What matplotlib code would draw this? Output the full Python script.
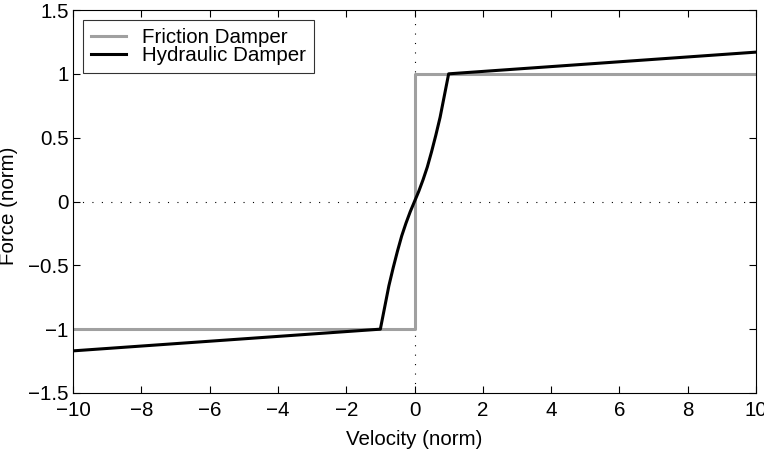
import matplotlib
matplotlib.use("Agg")
import matplotlib.pyplot as plt

# Data
fric_x = [-10, 0, 0, 10]
fric_y = [-1, -1, 1, 1]
hyd_x = [-10, -1, -0.875, -0.75, -0.625, -0.5, -0.375, -0.25, -0.125, 0,
         0.125, 0.25, 0.375, 0.5, 0.625, 0.75, 0.875, 1, 10]
hyd_y = [-1.17, -1, -0.83, -0.66, -0.52, -0.39, -0.27, -0.17, -0.08, 0,
         0.08, 0.17, 0.27, 0.39, 0.52, 0.66, 0.83, 1, 1.17]
xticks = [-10, -8, -6, -4, -2, 0, 2, 4, 6, 8, 10]
yticks = [-1.5, -1, -0.5, 0, 0.5, 1, 1.5]

plt.rcParams['font.family'] = ['Liberation Sans', 'DejaVu Sans']
FS = 14.8
fig = plt.figure(figsize=(7.64, 4.58), dpi=100)
ax = fig.add_axes([73/764, 1-393/458, (756-73)/764, (393-10)/458])

ax.axvline(0, color='black', lw=0.8, ls=(0, (1, 7.5)))
ax.axhline(0, color='black', lw=0.8, ls=(0, (1, 7.5)))
ax.plot(fric_x, fric_y, color='#a0a0a0', lw=2.2, label='Friction Damper')
ax.plot(hyd_x, hyd_y, color='black', lw=2.2, label='Hydraulic Damper')

ax.set_xlim(-10, 10)
ax.set_ylim(-1.5, 1.5)
ax.set_xticks(xticks)
ax.set_yticks(yticks)
ax.set_xticklabels([str(t).replace('-', '\u2212') for t in xticks])
ax.set_yticklabels([('%g' % t).replace('-', '\u2212') for t in yticks])
ax.tick_params(direction='in', length=5, width=0.8, top=True, right=True,
               labelsize=FS)
ax.tick_params(axis='x', pad=6)
ax.tick_params(axis='y', pad=3)
for s in ax.spines.values():
    s.set_linewidth(0.8)

ax.set_xlabel('Velocity (norm)', fontsize=FS)
ax.set_ylabel('Force (norm)', fontsize=FS)
ax.xaxis.set_label_coords(0.5, -0.097)
ax.yaxis.set_label_coords(-0.081, 0.49)

leg = ax.legend(loc='upper left', bbox_to_anchor=(0.014, 0.974), borderaxespad=0,
                fontsize=FS, frameon=True, fancybox=False, edgecolor='black',
                handlelength=1.7, labelspacing=-0.05, borderpad=0.4,
                handletextpad=0.8)
leg.get_frame().set_linewidth(0.8)

fig.savefig('out.png', dpi=100)
